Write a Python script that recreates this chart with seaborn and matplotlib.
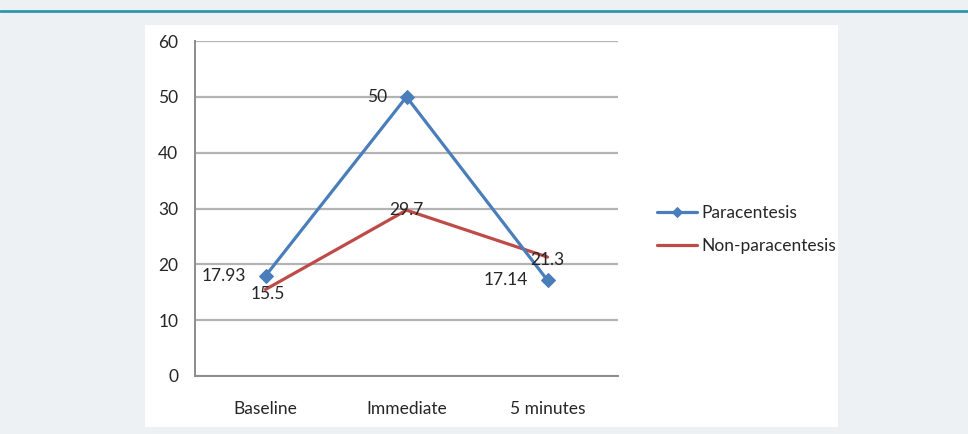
import matplotlib
matplotlib.use("Agg")
import matplotlib.pyplot as plt
import matplotlib.patches as mpatches
from matplotlib.lines import Line2D
import pandas as pd
import seaborn as sns

timepoints = ["Baseline", "Immediate", "5 minutes"]
paracentesis = [17.93, 50, 17.14]
non_paracentesis = [15.5, 29.7, 21.3]
para_labels = ["17.93", "50", "17.14"]
non_labels = ["15.5", "29.7", "21.3"]

df = pd.DataFrame({
    "time": timepoints * 2,
    "value": paracentesis + non_paracentesis,
    "group": ["Paracentesis"] * 3 + ["Non-paracentesis"] * 3,
})

sns.set_style("white")
plt.rcParams["font.family"] = ["Lato", "DejaVu Sans"]

blue = "#4a7ebb"
red = "#be4b48"
txt = "#262626"
fs = 12.5

fig = plt.figure(figsize=(9.68, 4.34), dpi=100, facecolor="#edf1f4")
# white chart panel and the teal rule on top
fig.patches.append(mpatches.Rectangle((145 / 968, 1 - 427 / 434), 693 / 968, 402 / 434,
                                      transform=fig.transFigure, facecolor="white",
                                      edgecolor="none", zorder=-5))
fig.lines.append(Line2D([0, 1], [1 - 10.5 / 434] * 2, transform=fig.transFigure,
                        color="#2f97aa", lw=2))

ax = fig.add_axes([195 / 968, 1 - 376 / 434, 423 / 968, 335 / 434])
ax.set_facecolor("none")

sns.lineplot(data=df[df.group == "Paracentesis"], x="time", y="value", ax=ax,
             color=blue, lw=2.3, marker="D", markersize=7, markeredgecolor=blue,
             sort=False, label="Paracentesis", zorder=3)
sns.lineplot(data=df[df.group == "Non-paracentesis"], x="time", y="value", ax=ax,
             color=red, lw=2.3, sort=False, label="Non-paracentesis", zorder=2)

ax.set_xlim(-0.5, 2.5)
ax.set_ylim(0, 60)
ax.set_yticks(range(0, 61, 10))
ax.set_xlabel("")
ax.set_ylabel("")
ax.yaxis.grid(True, color="#b3b3b3", lw=1.6)
ax.set_axisbelow(True)
for s in ["top", "right"]:
    ax.spines[s].set_visible(False)
for s in ["left", "bottom"]:
    ax.spines[s].set_color("#8c8c8c")
    ax.spines[s].set_linewidth(1.4)
ax.set_xticks([-0.5, 0.5, 1.5, 2.5], minor=True)
ax.set_xticks(range(3))
ax.set_xticklabels(timepoints)
ax.tick_params(axis="x", which="major", length=0, pad=18, labelsize=fs, labelcolor=txt)
ax.tick_params(axis="x", which="minor", length=5, direction="inout", color="#8c8c8c", width=1.4)
ax.tick_params(axis="y", length=3.6, color="#8c8c8c", width=1.4, pad=8.5,
               labelsize=fs, labelcolor=txt)

# data labels
for i, (dx, dy) in enumerate([(-14, 0), (-14, 0), (-14, 0)]):
    ax.annotate(para_labels[i], (i, paracentesis[i]), xytext=(dx, dy),
                textcoords="offset points", ha="right", va="center",
                fontsize=fs, color=txt, zorder=4)
for i, (dx, dy) in enumerate([(1.5, -3), (0, 0), (0, -2)]):
    ax.annotate(non_labels[i], (i, non_paracentesis[i]), xytext=(dx, dy),
                textcoords="offset points", ha="center", va="center",
                fontsize=fs, color=txt, zorder=4)

leg = ax.legend(loc="center left", bbox_to_anchor=(641 / 968, 1 - 229.5 / 434),
                bbox_transform=fig.transFigure, frameon=False, fontsize=fs,
                handlelength=2.3, handletextpad=0.3, labelspacing=0.95, labelcolor=txt)
for h in leg.legend_handles:
    h.set_markersize(5)

plt.savefig("out.png", dpi=100, facecolor=fig.get_facecolor())
